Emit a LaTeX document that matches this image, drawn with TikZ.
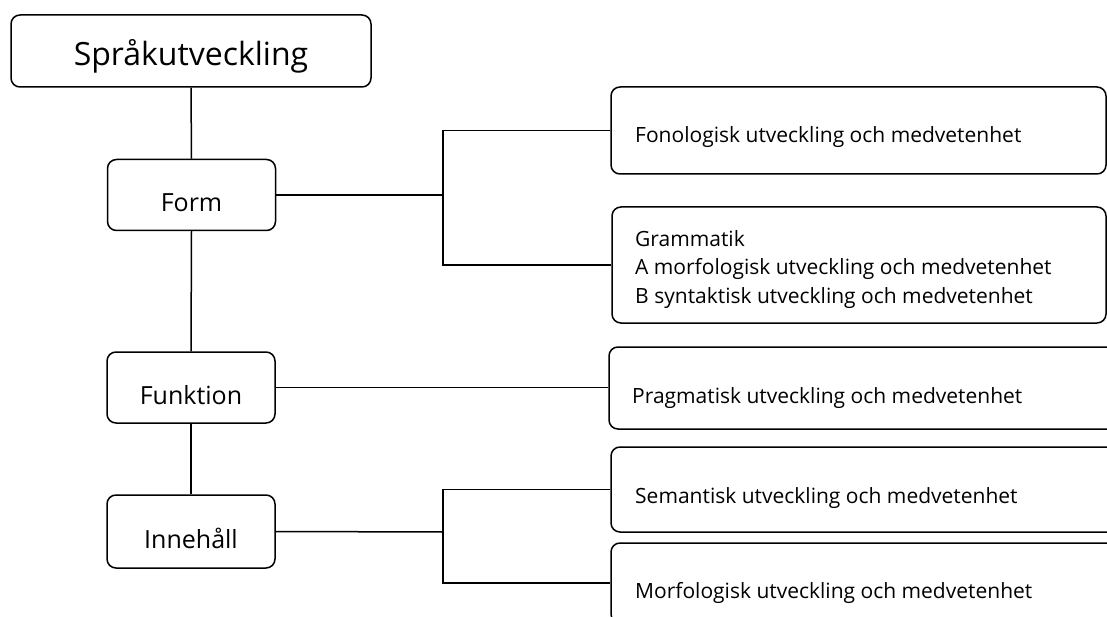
\documentclass[tikz,border=0pt]{standalone}
\usepackage{fontspec}
\setmainfont{Open Sans}
\usetikzlibrary{calc}
\tikzset{
  box/.style={draw, line width=1.5pt, rounded corners=9pt, inner sep=0pt},
  lnk/.style={line width=1.5pt},
  big/.style={font=\fontsize{32}{36}\selectfont, inner sep=0pt},
  mid/.style={font=\fontsize{25}{29}\selectfont, inner sep=0pt},
  small/.style={font=\fontsize{21}{25}\selectfont, inner sep=0pt, anchor=base west},
}
\begin{document}
\begin{tikzpicture}[x=1pt,y=-1pt]
\useasboundingbox (0,0) rectangle (1107,617);
\clip (0,0) rectangle (1107,617);
% left column
\node[box, minimum width=360pt, minimum height=72pt] (title) at (191,51) {};
\node[box, minimum width=168pt, minimum height=71pt] (form) at (191.5,195) {};
\node[box, minimum width=168pt, minimum height=71pt] (funk) at (191,387.5) {};
\node[box, minimum width=168pt, minimum height=73pt] (inne) at (191,531.5) {};
\node[big, anchor=base] (ttitle) at (191,66) {Språkutveckling};
\node[mid, anchor=base] (tform) at (191.5,212) {Form};
\node[mid, anchor=base] (tfunk) at (191,404) {Funktion};
\node[mid, anchor=base] (tinne) at (191,548) {Innehåll};
% right column
\node[box, minimum width=495pt, minimum height=87pt] (fon) at (858.5,130.5) {};
\node[box, minimum width=494pt, minimum height=116pt] (gram) at (859,265) {};
\node[box, minimum width=520pt, minimum height=82pt] (prag) at (869,388) {};
\node[box, minimum width=520pt, minimum height=85pt] (sem) at (871,489.5) {};
\node[box, minimum width=520pt, minimum height=80pt] (morf) at (871,583) {};
\node[small] (tfon) at (635,143) {Fonologisk utveckling och medvetenhet};
\node[small] (tg1) at (635,247) {Grammatik};
\node[small] (tg2) at (635,275) {A morfologisk utveckling och medvetenhet};
\node[small] (tg3) at (635,303) {B syntaktisk utveckling och medvetenhet};
\node[small] (tprag) at (632,403) {Pragmatisk utveckling och medvetenhet};
\node[small] (tsem) at (635,503) {Semantisk utveckling och medvetenhet};
\node[small] (tmorf) at (635,598) {Morfologisk utveckling och medvetenhet};
% connectors
\draw[lnk] (title.south) -- (form.north);
\draw[lnk] (form.south) -- (funk.north);
\draw[lnk] (funk.south) -- (inne.north);
\coordinate (jf) at (443,195);
\coordinate (ji) at (443,532);
\draw[lnk] (form.east) -- (jf);
\draw[lnk] (fon.west) -| (jf) |- (gram.west);
\draw[lnk] (funk.east) -- (funk.east -| prag.west);
\draw[lnk] (inne.east) -- (ji);
\draw[lnk] (sem.west) -| (ji) |- (morf.west);
\end{tikzpicture}
\end{document}
